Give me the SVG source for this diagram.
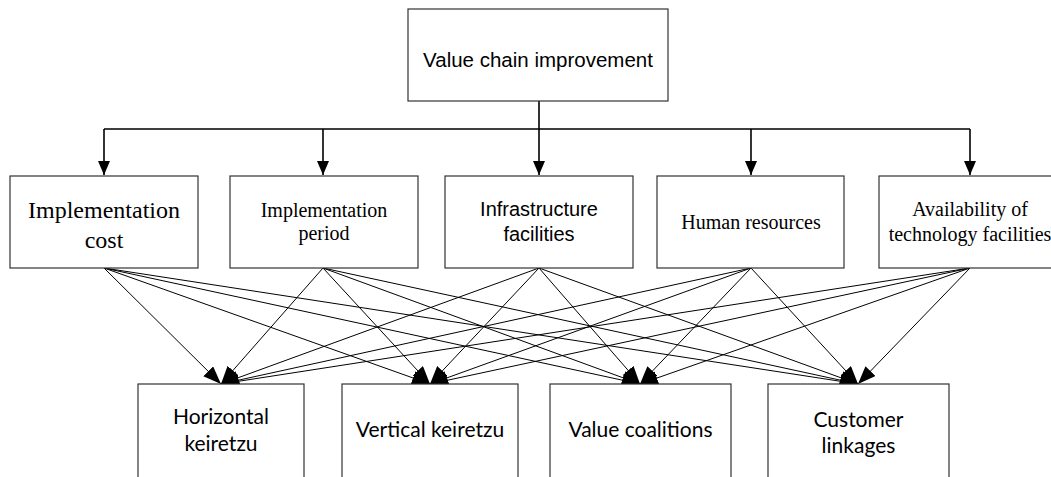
<svg xmlns="http://www.w3.org/2000/svg" width="1051" height="477" viewBox="0 0 1051 477">
<style>
.box{fill:#fff;stroke:#333;stroke-width:1.2}
.ar{font-family:"Liberation Sans",Arial,sans-serif;fill:#000;text-anchor:middle}
.tm{font-family:"Liberation Serif","Times New Roman",serif;fill:#000;text-anchor:middle}
.cb{font-family:Lato,"Open Sans",sans-serif;fill:#000;text-anchor:middle;font-size:21px}
.main{fill:none;stroke:#000;stroke-width:1.6}
.fan{fill:none;stroke:#000;stroke-width:1}
</style>
<defs>
<marker id="ah" markerUnits="userSpaceOnUse" markerWidth="16" markerHeight="14" refX="14" refY="6" orient="auto">
<path d="M0,0 L14,6 L0,12 z" fill="#000"/>
</marker>
<marker id="ah2" markerUnits="userSpaceOnUse" markerWidth="20" markerHeight="16" refX="18" refY="7" orient="auto">
<path d="M0,0 L18,7 L0,14 z" fill="#000"/>
</marker>
</defs>
<g id="connectors">
<path class="main" d="M539,101 V129 M104,129 H970"/>
<path class="main" d="M104,129 V175" marker-end="url(#ah)"/>
<path class="main" d="M323,129 V175" marker-end="url(#ah)"/>
<path class="main" d="M539,129 V175" marker-end="url(#ah)"/>
<path class="main" d="M751,129 V175" marker-end="url(#ah)"/>
<path class="main" d="M970,129 V175" marker-end="url(#ah)"/>
<g class="fan">
<path d="M104,268 L221,384" marker-end="url(#ah2)"/>
<path d="M104,268 L430,384" marker-end="url(#ah2)"/>
<path d="M104,268 L640,384" marker-end="url(#ah2)"/>
<path d="M104,268 L858,384" marker-end="url(#ah2)"/>
<path d="M323,268 L221,384" marker-end="url(#ah2)"/>
<path d="M323,268 L430,384" marker-end="url(#ah2)"/>
<path d="M323,268 L640,384" marker-end="url(#ah2)"/>
<path d="M323,268 L858,384" marker-end="url(#ah2)"/>
<path d="M539,268 L221,384" marker-end="url(#ah2)"/>
<path d="M539,268 L430,384" marker-end="url(#ah2)"/>
<path d="M539,268 L640,384" marker-end="url(#ah2)"/>
<path d="M539,268 L858,384" marker-end="url(#ah2)"/>
<path d="M751,268 L221,384" marker-end="url(#ah2)"/>
<path d="M751,268 L430,384" marker-end="url(#ah2)"/>
<path d="M751,268 L640,384" marker-end="url(#ah2)"/>
<path d="M751,268 L858,384" marker-end="url(#ah2)"/>
<path d="M970,268 L221,384" marker-end="url(#ah2)"/>
<path d="M970,268 L430,384" marker-end="url(#ah2)"/>
<path d="M970,268 L640,384" marker-end="url(#ah2)"/>
<path d="M970,268 L858,384" marker-end="url(#ah2)"/>
</g>
</g>
<g id="n-top">
<rect class="box" x="408" y="9" width="260" height="92"/>
<text class="ar" x="538" y="67" font-size="20.5">Value chain improvement</text>
</g>
<g id="n-cost">
<rect class="box" x="10" y="176" width="188" height="92"/>
<text class="tm" x="104" y="218" font-size="24">Implementation</text>
<text class="tm" x="104" y="248" font-size="24">cost</text>
</g>
<g id="n-period">
<rect class="box" x="230" y="176" width="188" height="92"/>
<text class="tm" x="324" y="217" font-size="20">Implementation</text>
<text class="tm" x="324" y="240" font-size="20">period</text>
</g>
<g id="n-infra">
<rect class="box" x="445" y="176" width="188" height="92"/>
<text class="ar" x="539" y="216" font-size="20">Infrastructure</text>
<text class="ar" x="539" y="241" font-size="20">facilities</text>
</g>
<g id="n-human">
<rect class="box" x="657" y="176" width="187" height="92"/>
<text class="tm" x="751" y="229" font-size="20">Human resources</text>
</g>
<g id="n-tech">
<rect class="box" x="879" y="176" width="182" height="92"/>
<text class="tm" x="970" y="216" font-size="20">Availability of</text>
<text class="tm" x="970" y="241" font-size="20">technology facilities</text>
</g>
<g id="n-horizontal">
<rect class="box" x="138" y="384" width="166" height="100"/>
<text class="cb" x="221" y="424">Horizontal</text>
<text class="cb" x="221" y="451">keiretzu</text>
</g>
<g id="n-vertical">
<rect class="box" x="342" y="384" width="176" height="100"/>
<text class="cb" x="430" y="437">Vertical keiretzu</text>
</g>
<g id="n-value">
<rect class="box" x="550" y="384" width="181" height="100"/>
<text class="cb" x="640.5" y="437">Value coalitions</text>
</g>
<g id="n-customer">
<rect class="box" x="768" y="384" width="181" height="100"/>
<text class="cb" x="858.5" y="427">Customer</text>
<text class="cb" x="858.5" y="453">linkages</text>
</g>
</svg>
